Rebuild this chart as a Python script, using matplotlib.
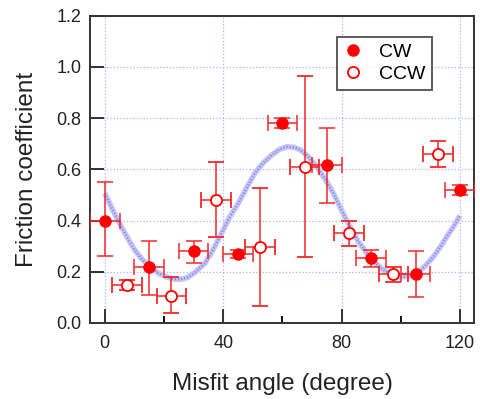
import matplotlib
matplotlib.use("Agg")
import matplotlib.pyplot as plt
from matplotlib.ticker import MultipleLocator
from matplotlib.lines import Line2D

plt.rcParams['font.family'] = ['Liberation Sans', 'DejaVu Sans']

# CW (filled) data
cw_x = [0, 15, 30, 45, 60, 75, 90, 105, 120]
cw_y = [0.40, 0.22, 0.28, 0.27, 0.78, 0.615, 0.255, 0.19, 0.52]
cw_lo = [0.26, 0.11, 0.236, 0.255, 0.76, 0.47, 0.22, 0.10, 0.50]
cw_hi = [0.55, 0.32, 0.32, 0.285, 0.80, 0.76, 0.285, 0.283, 0.54]

# CCW (open) data
ccw_x = [7.5, 22.5, 37.5, 52.5, 67.5, 82.5, 97.5, 112.5]
ccw_y = [0.148, 0.107, 0.48, 0.296, 0.61, 0.35, 0.19, 0.66]
ccw_lo = [0.128, 0.038, 0.335, 0.066, 0.257, 0.30, 0.16, 0.61]
ccw_hi = [0.168, 0.18, 0.628, 0.526, 0.965, 0.40, 0.22, 0.71]

x_err = 5.0

# Fit curve
fit_x = [0, 2.5, 5.6, 8, 10.1, 12.5, 15.2, 18, 20.8, 23, 25.5, 28, 30.5, 33.8, 36.5, 39.4,
         42, 45.1, 48, 50.7, 53.5, 56.4, 59, 61.5, 64, 66, 68.5, 71.6, 74.5, 77.2, 80,
         82.8, 85.5, 88.5, 91, 94.1, 97, 99.7, 102.5, 105.4, 108, 111, 113.5, 115.5, 118, 120]
fit_y = [0.507, 0.445, 0.376, 0.325, 0.285, 0.25, 0.22, 0.195, 0.18, 0.172, 0.17, 0.178, 0.198,
         0.233, 0.285, 0.35, 0.41, 0.468, 0.53, 0.585, 0.625, 0.656, 0.678, 0.688, 0.686, 0.676,
         0.652, 0.61, 0.56, 0.507, 0.44, 0.376, 0.32, 0.272, 0.238, 0.207, 0.19, 0.18, 0.182,
         0.194, 0.22, 0.259, 0.3, 0.337, 0.38, 0.42]

fig = plt.figure(figsize=(4.80, 3.99), dpi=100)
ax = fig.add_axes([0.1875, 0.1905, 0.8, 0.7702])

ax.grid(True, which='major', color='#aab0ff', linestyle=':', linewidth=0.9)
ax.set_axisbelow(True)

ax.plot(fit_x, fit_y, color='#c6c6f6', linewidth=4.0, solid_capstyle='butt', zorder=2)
ax.plot(fit_x, fit_y, color='#8a8aea', linewidth=1.6, linestyle=(0, (0.6, 0.8)), zorder=2)

ecol = '#f22a2a'
ax.errorbar(cw_x, cw_y,
            yerr=[[y - l for y, l in zip(cw_y, cw_lo)], [h - y for y, h in zip(cw_y, cw_hi)]],
            xerr=x_err, fmt='o', color='red', ecolor=ecol, elinewidth=1.1, capsize=5.5,
            capthick=1.1, markersize=8, markerfacecolor='red', markeredgecolor='red',
            label='CW', zorder=3)
ax.errorbar(ccw_x, ccw_y,
            yerr=[[y - l for y, l in zip(ccw_y, ccw_lo)], [h - y for y, h in zip(ccw_y, ccw_hi)]],
            xerr=x_err, fmt='o', color='red', ecolor=ecol, elinewidth=1.1, capsize=5.5,
            capthick=1.1, markersize=8, markerfacecolor='white', markeredgecolor='red',
            markeredgewidth=1.3, label='CCW', zorder=3)

ax.set_xlim(-5, 124.7)
ax.set_ylim(0, 1.2)
ax.xaxis.set_major_locator(MultipleLocator(40))
ax.xaxis.set_minor_locator(MultipleLocator(20))
ax.yaxis.set_major_locator(MultipleLocator(0.2))
ax.set_yticklabels([f'{v:.1f}' for v in ax.get_yticks()])
ax.tick_params(which='major', direction='in', length=10, width=1.3, labelsize=13,
               colors='#222222', pad=6)
ax.tick_params(axis='x', which='major', pad=9)
ax.tick_params(which='minor', direction='in', length=5, width=1.3)
ax.tick_params(axis='y', which='minor', left=False)
for s in ax.spines.values():
    s.set_linewidth(1.4)
    s.set_color('#333333')

ax.set_xlabel('Misfit angle (degree)', fontsize=17.5, labelpad=15, color='#222222')
ax.set_ylabel('Friction coefficient', fontsize=17.5, labelpad=13, color='#222222')

h1 = Line2D([], [], marker='o', linestyle='none', color='red', markersize=8)
h2 = Line2D([], [], marker='o', linestyle='none', markerfacecolor='white',
            markeredgecolor='red', markeredgewidth=1.3, markersize=8)
leg = ax.legend([h1, h2], ['CW', 'CCW'], loc='upper left',
                bbox_to_anchor=(0.643, 0.931), fontsize=14, frameon=True, fancybox=False,
                edgecolor='#333333', handlelength=1.0, handletextpad=0.8,
                borderpad=0.35, labelspacing=0.2, borderaxespad=0)
leg.get_frame().set_linewidth(1.4)

fig.savefig('out.png', dpi=100, facecolor='white')
